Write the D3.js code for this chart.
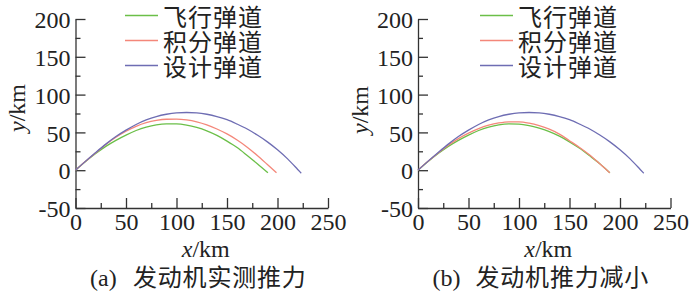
<!DOCTYPE html>
<html>
<head>
<meta charset="utf-8">
<script src="https://cdn.jsdelivr.net/npm/d3@7"></script>
<style>
  body { margin: 0; background: #fff; }
  svg { display: block; }
  .cn { font-family: "Noto Sans CJK SC", sans-serif; font-size: 24px; fill: #222; }
  .serif { font-family: "Liberation Serif", "Times New Roman", serif; font-size: 24px; fill: #222; }
</style>
</head>
<body>
<div id="chart"></div>
<script>
// legend and captions
const seriesNames = ["飞行弹道", "积分弹道", "设计弹道"]
const seriesColors = ["#6bbf48", "#f4877a", "#6e6db3"]
const captionTags = ["(a)", "(b)"]
const captionTexts = ["发动机实测推力", "发动机推力减小"]

const xTicks = [0, 50, 100, 150, 200, 250]
const yTicks = [-50, 0, 50, 100, 150, 200]

// (a) measured thrust: [x km, y km]
const flightA = [[0,0],[10,11.5],[20,22],[30,31.5],[40,39.5],[50,46.5],[60,52.5],[70,57],[80,60],[90,61.3],[100,61.2],[110,59.6],[120,56.5],[130,52],[140,46],[150,38.5],[160,30],[170,19.5],[180,8.5],[190.5,-3.5]]
const integralA = [[0,0],[10,11.8],[20,23],[30,34],[40,43.5],[50,51.5],[60,58],[70,62.8],[80,65.8],[90,67.4],[100,67.6],[110,66.5],[120,64],[130,60],[140,54.5],[150,48],[160,40],[170,30.5],[180,19.5],[190,7.5],[199,-3.5]]
const designA = [[0,0],[10,12],[20,23.5],[30,34.5],[40,44.5],[50,53],[60,60.5],[70,66.5],[80,71],[90,74],[100,75.8],[110,76.3],[120,75.8],[130,74],[140,71],[150,66.8],[160,61],[170,54.5],[180,46.5],[190,37.5],[200,27],[210,15],[220,1],[223.5,-4]]

// (b) reduced thrust
const flightB = [[0,0],[10,11.5],[20,22],[30,31.5],[40,39.5],[50,46.5],[60,52.5],[70,57],[80,60],[90,61.3],[100,61],[110,59],[120,55.5],[130,51],[140,45],[150,37.5],[160,29],[170,19],[180,8.5],[190,-3.5]]
const integralB = [[0,0],[10,11.7],[20,22.8],[30,33],[40,41.8],[50,49],[60,55],[70,59.5],[80,62.5],[90,64],[100,64],[110,62.3],[120,59],[130,54.3],[140,47.8],[150,39],[160,30],[170,20],[180,8.5],[190,-3.5]]
const designB = designA

const panels = [
  { left: 75.5, series: [flightA, integralA, designA], legendX: 125, ylabX: 25, ylabY: 108 },
  { left: 418, series: [flightB, integralB, designB], legendX: 480, ylabX: 368, ylabY: 110 }
]

const width = 700
const height = 304
const plotW = 252.5
const plotTop = 19
const plotBottom = 208

const svg = d3.select("#chart")
  .append("svg")
  .attr("width", width)
  .attr("height", height)

panels.forEach((p, i) => {
  const x = d3.scaleLinear([0, 250], [p.left, p.left + plotW])
  const y = d3.scaleLinear([-50, 200], [plotBottom, plotTop])

  const g = svg.append("g")

  // minor ticks
  g.append("g")
    .attr("transform", `translate(${p.left},0)`)
    .call(d3.axisLeft(y).tickValues(d3.range(-25, 200, 50)).tickSize(-5).tickFormat(""))
    .call(a => a.select(".domain").remove())
  g.append("g")
    .attr("transform", `translate(0,${plotBottom})`)
    .call(d3.axisBottom(x).tickValues(d3.range(25, 250, 50)).tickSize(-5).tickFormat(""))
    .call(a => a.select(".domain").remove())

  // major ticks + labels
  g.append("g")
    .attr("transform", `translate(${p.left},0)`)
    .call(d3.axisLeft(y).tickValues(yTicks).tickSize(-10).tickSizeOuter(0).tickPadding(5).tickFormat(d => String(d)))
    .call(a => a.selectAll("text").attr("dy", "0.36em"))
  g.append("g")
    .attr("transform", `translate(0,${plotBottom})`)
    .call(d3.axisBottom(x).tickValues(xTicks).tickSize(-10).tickSizeOuter(0).tickPadding(5).tickFormat(d => String(d)))

  g.selectAll(".domain, .tick line").attr("stroke", "#333").attr("stroke-width", 1.3)
  g.selectAll(".tick text")
    .attr("font-family", "Liberation Serif, Times New Roman, serif")
    .attr("font-size", 24)
    .attr("fill", "#222")

  // curves
  const line = d3.line().x(d => x(d[0])).y(d => y(d[1])).curve(d3.curveMonotoneX)
  p.series.forEach((s, j) => {
    g.append("path")
      .datum(s)
      .attr("d", line)
      .attr("fill", "none")
      .attr("stroke", seriesColors[j])
      .attr("stroke-width", 1.3)
  })

  // legend
  const rows = [15.5, 40.5, 65.5]
  seriesNames.forEach((name, j) => {
    g.append("line")
      .attr("x1", p.legendX).attr("x2", p.legendX + 33)
      .attr("y1", rows[j]).attr("y2", rows[j])
      .attr("stroke", seriesColors[j]).attr("stroke-width", 1.5)
    g.append("text")
      .attr("class", "cn")
      .attr("font-size", 23)
      .attr("letter-spacing", 1)
      .attr("x", p.legendX + 38)
      .attr("y", rows[j])
      .attr("dominant-baseline", "central")
      .text(name)
  })

  // axis titles
  const xt = g.append("text")
    .attr("class", "serif")
    .attr("x", (x(0) + x(250)) / 2 + 4)
    .attr("y", 257)
    .attr("text-anchor", "middle")
  xt.append("tspan").attr("font-style", "italic").text("x")
  xt.append("tspan").text("/km")

  const yt = g.append("text")
    .attr("class", "serif")
    .attr("transform", `translate(${p.ylabX},${p.ylabY}) rotate(-90)`)
    .attr("text-anchor", "middle")
  yt.append("tspan").attr("font-style", "italic").text("y")
  yt.append("tspan").text("/km")

  // caption
  const capX = p.left + 14.5
  g.append("text")
    .attr("class", "serif")
    .attr("x", capX)
    .attr("y", 286)
    .text(captionTags[i])
  g.append("text")
    .attr("class", "cn")
    .attr("x", capX + 43)
    .attr("y", 286)
    .attr("letter-spacing", 0.8)
    .text(captionTexts[i])
})
</script>
</body>
</html>
